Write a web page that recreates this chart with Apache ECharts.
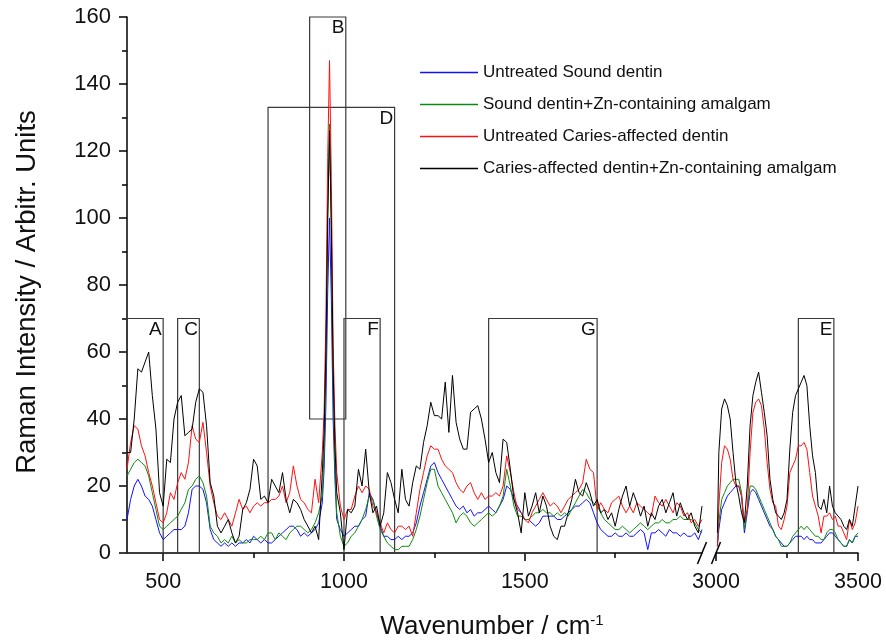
<!DOCTYPE html>
<html><head><meta charset="utf-8">
<script src="https://cdn.jsdelivr.net/npm/echarts/dist/echarts.min.js"></script>
<style>html,body{margin:0;padding:0;background:#fff}#c{width:886px;height:643px}</style>
</head><body><div id="c"></div>
<script>
// ---------- data ----------
const seriesNames = ['Untreated Sound dentin','Sound dentin+Zn-containing amalgam','Untreated Caries-affected dentin','Caries-affected dentin+Zn-containing amalgam'];
const seriesColors = ['#1010ff','#0c8c0c','#ff1010','#000000'];

const leftWn = [400,410,420,430,440,450,460,470,480,490,500,510,520,530,540,550,560,570,580,590,
600,610,620,630,640,650,660,670,680,690,700,710,720,730,740,750,760,770,780,790,
800,810,820,830,840,850,860,870,880,890,900,910,920,930,
940,945,950,955,960,965,970,975,980,990,
1000,1010,1020,1030,1040,1050,1060,1070,1080,1090,1100,1110,1120,1130,1140,1150,1160,1170,1180,1190,
1200,1210,1220,1230,1240,1250,1260,1270,1280,1290,1300,1310,1320,1330,1340,1350,1360,1370,1380,1390,
1400,1410,1420,1430,1440,1450,1460,1470,1480,1490,1500,1510,1520,1530,1540,1550,1560,1570,1580,1590,
1600,1610,1620,1630,1640,1650,1660,1670,1680,1690,1700,1710,1720,1730,1740,1750,1760,1770,1780,1790,
1800,1810,1820,1830,1840,1850,1860,1870,1880,1890,1900,1910,1920,1930,1940,1950,1960,1970,1980,1990];

const blueLeft = [10,16,20,22,20,17,16,14,10,6, 4,5,6,7,7,7,8,12,19,20,
20,19,15,7,4,3,2,3,2,3, 2,3,3,4,3,5,4,3,4,3,
3,4,5,6,7,8,8,7,5,6, 5,6,7,9,
15,25,44,78,100,76,40,22,10, 7,
5,6,7,8,8,10,11,18,16,12, 8,5,5,4,4,5,4,5,5,6,
9,14,18,22,26,27,24,22,20,18, 16,14,13,14,12,13,11,12,12,13,
14,13,12,14,16,20,19,16,14,12, 10,10,9,8,9,11,11,11,11,10,
10,11,12,13,14,14,15,16,15,12, 9,7,6,5,5,6,5,5,6,5,
5,6,7,6,1,6,6,7,6,5, 7,6,6,5,6,5,5,6,4,7];

const greenLeft = [23,25,27,28,27,26,23,18,13,8, 7,8,9,10,11,13,15,19,20,22,
23,21,17,8,6,5,3,4,3,5, 3,4,3,3,4,4,4,5,4,6,
6,4,6,5,4,6,7,8,8,7, 6,7,9,12,
17,30,55,100,128,96,50,26,12, 5,
2,3,5,6,8,10,13,17,16,11, 7,5,3,2,1,1,2,2,2,4,
7,11,16,21,25,25,20,18,16,14, 12,9,11,12,11,9,8,9,10,11,
12,11,12,14,17,25,20,14,11,11, 10,10,11,12,12,13,12,12,11,12,
11,12,11,13,15,17,19,18,16,15, 14,12,10,9,8,7,7,8,7,6,
7,8,9,8,7,8,9,9,10,9, 9,10,10,11,10,10,10,9,7,6];

const redLeft = [25,33,38,37,32,29,24,20,15,10, 9,12,18,16,21,24,22,27,38,34,
33,39,30,20,15,11,10,12,10,8, 12,16,13,14,12,14,15,14,15,15,
16,16,17,20,15,18,26,20,16,15, 13,12,22,15,
30,42,70,118,147,112,62,38,24, 14,
10,13,13,17,20,18,20,19,14,12, 9,6,9,7,6,8,8,7,8,5,
12,19,24,29,32,31,31,28,26,25, 24,21,19,18,20,21,18,16,18,16,
17,17,18,17,20,29,24,18,13,12, 10,9,12,14,16,18,16,14,15,14,
12,14,16,17,18,19,21,28,25,24, 13,15,13,12,15,16,17,14,12,14,
12,15,14,13,12,11,17,15,14,16, 14,12,15,14,11,12,9,10,8,10];

const blackLeft = [30,30,40,55,54,57,60,47,37,18, 14,28,27,40,45,47,35,36,37,45,
49,48,38,21,17,8,6,8,10,6, 3,5,13,15,19,28,26,16,17,15,
22,20,18,24,16,12,16,15,13,10, 8,6,8,4,
24,36,60,100,126,98,55,32,18, 12,
1,13,12,14,25,20,31,18,12,14, 8,12,24,21,16,12,25,16,14,21,
26,25,33,38,45,41,41,40,51,36, 53,39,34,31,31,42,43,44,40,34,
27,30,24,21,34,33,25,16,12,6, 18,11,14,18,12,17,14,8,5,4,
8,8,12,16,22,18,17,21,18,14, 16,12,13,10,12,8,13,17,20,14,
18,15,11,14,8,12,10,14,16,12, 15,18,11,15,12,10,12,8,6,14];

const rightWn = [3005,3010,3020,3030,3040,3050,3060,3070,3080,3090,3100,
3110,3120,3130,3140,3150,3160,3170,3180,3190,3200,
3210,3220,3230,3240,3250,3260,3270,3280,3290,3300,
3310,3320,3330,3340,3350,3360,3370,3380,3390,3400,
3410,3420,3430,3440,3450,3460,3470,3480,3490,3500];

const blueRight  = [2,7,13,15,17,18,19,20,20,17,6, 12,18,19,18,16,14,12,10,8,7, 5,4,3,2,2,3,4,5,5,5, 4,5,4,4,3,3,3,4,5,6, 6,5,4,3,2,2,4,3,5,5];
const greenRight = [3,9,16,18,20,21,22,22,22,18,7, 13,20,20,19,17,15,13,11,9,7, 5,4,2,2,2,3,5,6,7,8, 7,8,7,6,5,5,4,4,6,7, 7,6,4,3,2,2,4,3,5,6];
const redRight   = [2,14,27,32,31,28,22,20,20,17,9, 13,30,42,45,46,44,37,27,19,15, 14,8,7,10,14,24,26,28,32,32, 33,31,24,17,14,11,6,11,11,12, 10,11,8,8,6,4,10,7,9,14];
const blackRight = [6,30,43,46,44,40,30,21,17,12,9, 20,38,47,51,54,48,42,35,22,16, 12,11,10,12,16,31,42,47,49,51, 53,50,38,29,24,14,13,16,12,20, 14,12,11,10,8,7,10,8,14,20];

const xMajorLeft = [500,1000,1500];
const xMinorLeft = [750,1250,1750];
const xMajorRight = [3000,3500];
const xMinorRight = [3250];

// boxes: label, x from, x to, y from, y to
const boxesLeft = [['A',400,500,0,70],['C',540,600,0,70],['B',905,1005,40,160],['D',790,1140,0,133],['F',1000,1100,0,70],['G',1400,1700,0,70]];
const boxesRight = [['E',3290,3415,0,70]];

// ---------- chart ----------
const FONT = '"Liberation Sans", Arial, sans-serif';
const chart = echarts.init(document.getElementById('c'), null, {renderer:'canvas'});
const leftData = [blueLeft, greenLeft, redLeft, blackLeft];
const rightData = [blueRight, greenRight, redRight, blackRight];

function pairs(xs, ys){ return xs.map((x,i)=>[x, ys[i]]); }
function boxArea(list){
  return {
    silent:true,
    itemStyle:{color:'rgba(0,0,0,0)', borderColor:'#3a3a3a', borderWidth:1.2},
    label:{show:true, position:'insideTopRight', distance:2, fontSize:19, fontFamily:FONT, color:'#111'},
    data:list.map(b=>[{name:b[0], xAxis:b[1], yAxis:b[4]},{xAxis:b[2], yAxis:b[3]}])
  };
}

const series = [];
seriesNames.forEach((n,i)=>{
  series.push({name:n, type:'line', xAxisIndex:0, yAxisIndex:0, data:pairs(leftWn, leftData[i]),
    showSymbol:false, symbol:'none', lineStyle:{width:1, color:seriesColors[i]}, itemStyle:{color:seriesColors[i]},
    animation:false, z:2+i, markArea: i===0 ? boxArea(boxesLeft) : undefined});
  series.push({name:n, type:'line', xAxisIndex:1, yAxisIndex:1, data:pairs(rightWn, rightData[i]),
    showSymbol:false, symbol:'none', lineStyle:{width:1, color:seriesColors[i]}, itemStyle:{color:seriesColors[i]},
    animation:false, z:2+i, markArea: i===0 ? boxArea(boxesRight) : undefined});
});

const axisLineStyle = {color:'#000', width:1.5};
const plain = v => String(v);
function xMain(grid, min, max, major){
  return {type:'value', gridIndex:grid, min:min, max:max, position:'bottom',
    axisLine:{show:true, onZero:false, lineStyle:axisLineStyle},
    axisTick:{show:true, inside:false, length:8, customValues:major, lineStyle:{color:'#000', width:1.5}},
    axisLabel:{show:true, customValues:major, formatter:plain, margin:18, fontSize:21.5, fontFamily:FONT, color:'#111'},
    splitLine:{show:false}};
}
function xMinor(grid, min, max, minor){
  return {type:'value', gridIndex:grid, min:min, max:max, position:'bottom', offset:0,
    axisLine:{show:false},
    axisTick:{show:true, inside:false, length:5, customValues:minor, lineStyle:{color:'#000', width:1.5}},
    axisLabel:{show:false}, splitLine:{show:false}};
}

chart.setOption({
  animation:false,
  backgroundColor:'#fff',
  grid:[
    {left:127, right:184, top:17, bottom:90, containLabel:false},
    {left:716, right:28, top:17, bottom:90, containLabel:false}
  ],
  xAxis:[
    xMain(0, 400, 1990, xMajorLeft),
    xMain(1, 3000, 3500, xMajorRight),
    xMinor(0, 400, 1990, xMinorLeft),
    xMinor(1, 3000, 3500, xMinorRight)
  ],
  yAxis:[
    {type:'value', gridIndex:0, min:0, max:160, interval:20,
      axisLine:{show:true, lineStyle:axisLineStyle},
      axisTick:{show:true, inside:false, length:8, lineStyle:{color:'#000', width:1.5}},
      minorTick:{show:true, splitNumber:2, length:5, lineStyle:{color:'#000', width:1.5}},
      axisLabel:{margin:16, fontSize:22, fontFamily:FONT, color:'#111', formatter:plain},
      splitLine:{show:false}},
    {type:'value', gridIndex:1, min:0, max:160, interval:20, show:false, splitLine:{show:false}}
  ],
  legend:{
    data:seriesNames, orient:'vertical', left:415, top:59,
    icon:'rect', itemWidth:58, itemHeight:1.5, itemGap:15,
    textStyle:{fontSize:17, fontFamily:FONT, color:'#111', lineHeight:17},
    selectedMode:false
  },
  series:series
});

// axis titles and axis-break marks
const p0 = chart.convertToPixel({xAxisIndex:0, yAxisIndex:0}, [1990, 0]);
const p1 = chart.convertToPixel({xAxisIndex:1, yAxisIndex:1}, [3000, 0]);
chart.setOption({
  graphic:[
    {type:'line', shape:{x1:p0[0]-4.5, y1:p0[1]+11, x2:p0[0]+4.5, y2:p0[1]-11}, style:{stroke:'#000', lineWidth:1.5}},
    {type:'line', shape:{x1:p1[0]-4.5, y1:p1[1]+11, x2:p1[0]+4.5, y2:p1[1]-11}, style:{stroke:'#000', lineWidth:1.5}},
    {type:'text', x:27, y:292, rotation:Math.PI/2,
      style:{text:'Raman Intensity / Arbitr. Units', font:'27.5px "Liberation Sans", Arial, sans-serif', fill:'#111', align:'center', verticalAlign:'middle'}},
    {type:'text', x:492, y:627,
      style:{text:'Wavenumber / cm{sup|-1}', font:'26px "Liberation Sans", Arial, sans-serif', fill:'#111', align:'center', verticalAlign:'middle',
        rich:{sup:{fontSize:15, fontFamily:FONT, fill:'#111', verticalAlign:'top', padding:[0,0,13,0]}}}}
  ]
});
</script>
</body></html>
